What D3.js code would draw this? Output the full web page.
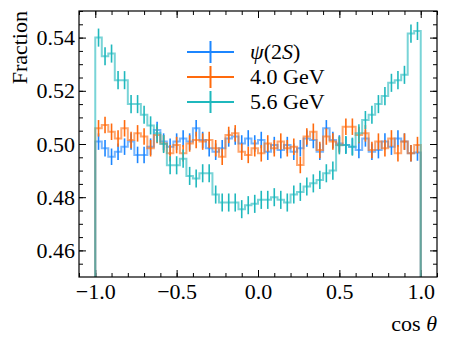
<!DOCTYPE html>
<html>
<head>
<meta charset="utf-8">
<script src="https://cdn.jsdelivr.net/npm/d3@7"></script>
<style>
  body { margin: 0; background: #fff; }
  svg text { font-family: "Liberation Serif", "DejaVu Serif", serif; fill: #000; }
  .domain { display: none; }
</style>
</head>
<body>
<div id="chart"></div>
<script>
// bin edges for cos(theta), 50 bins of width 0.04
var binEdges = d3.range(51).map(i => -1 + i * 0.04);

// fraction per bin
var psiValues = [0.5009, 0.4984, 0.4952, 0.4971, 0.4990, 0.5009, 0.4959, 0.4959, 0.4990, 0.5053,
                 0.5009, 0.4990, 0.5009, 0.5021, 0.5009, 0.5059, 0.5015, 0.4984, 0.4971, 0.4984,
                 0.5021, 0.5028, 0.5002, 0.5021, 0.5002, 0.5015, 0.4971, 0.4996, 0.4977, 0.4996,
                 0.4971, 0.4984, 0.5021, 0.5015, 0.4971, 0.5059, 0.5015, 0.5002, 0.4996, 0.4990,
                 0.4977, 0.5021, 0.4971, 0.4977, 0.5009, 0.4990, 0.5021, 0.5009, 0.4965, 0.4968];
var gev4Values = [0.5059, 0.5071, 0.5046, 0.5021, 0.5059, 0.5015, 0.5040, 0.5028, 0.4984, 0.5034,
                  0.5002, 0.4965, 0.4996, 0.4965, 0.5002, 0.5015, 0.5009, 0.5015, 0.4984, 0.4952,
                  0.5034, 0.5040, 0.4971, 0.4959, 0.4984, 0.4965, 0.5002, 0.4984, 0.5009, 0.4984,
                  0.4990, 0.4921, 0.5028, 0.5046, 0.4977, 0.5028, 0.5009, 0.4996, 0.5065, 0.5065,
                  0.5034, 0.5040, 0.4977, 0.5009, 0.4984, 0.5021, 0.4965, 0.5009, 0.4965, 0.4996];
var gev56Values = [0.5400, 0.5330, 0.5340, 0.5240, 0.5240, 0.5150, 0.5150, 0.5110, 0.5070, 0.5040,
                   0.5000, 0.4920, 0.4920, 0.4945, 0.4880, 0.4870, 0.4890, 0.4890, 0.4810, 0.4780,
                   0.4780, 0.4780, 0.4755, 0.4770, 0.4775, 0.4790, 0.4790, 0.4800, 0.4790, 0.4780,
                   0.4810, 0.4820, 0.4840, 0.4852, 0.4865, 0.4890, 0.4900, 0.4995, 0.4996, 0.4990,
                   0.5040, 0.5090, 0.5110, 0.5150, 0.5180, 0.5230, 0.5240, 0.5260, 0.5415, 0.5425];
// statistical error per bin (same size everywhere)
var psiErr = 0.0031;
var gev4Err = 0.0031;
var gev56Err = 0.0034;

var seriesNames = ["ψ(2S)", "4.0 GeV", "5.6 GeV"];
var seriesColors = ["#1c86ff", "#ff6a0d", "#1fb8bd"];

// tick labels
var xTicks = [-1.0, -0.5, 0.0, 0.5, 1.0];
var yTicks = [0.46, 0.48, 0.50, 0.52, 0.54];

var svgWidth = 449;
var svgHeight = 338;
var margin = { top: 11, right: 12, bottom: 61, left: 79 };
var width = svgWidth - margin.left - margin.right;
var height = svgHeight - margin.top - margin.bottom;
var fontSize = "22px";

var svg = d3.select("#chart")
  .append("svg")
  .attr("width", svgWidth)
  .attr("height", svgHeight);

var chartGroup = svg.append("g")
  .attr("transform", `translate(${margin.left}, ${margin.top})`);

var xScale = d3.scaleLinear().domain([-1.1, 1.1]).range([0, width]);
var yScale = d3.scaleLinear().domain([0.45, 0.55]).range([height, 0]);

// clip so the step edges stop at the frame
svg.append("defs").append("clipPath").attr("id", "plotclip")
  .append("rect").attr("width", width).attr("height", height);

var xMinor = d3.range(-11, 12).map(i => i / 10);
var yMinor = d3.range(91, 111).map(i => i / 200);

function styleAxis(g) {
  g.selectAll(".tick line").attr("stroke", "#000").attr("stroke-width", 1);
  g.selectAll("text").style("font-size", fontSize);
}

// bottom
chartGroup.append("g")
  .attr("transform", `translate(0, ${height})`)
  .call(d3.axisBottom(xScale).tickValues(xMinor).tickSize(-4).tickFormat(""))
  .call(styleAxis);
chartGroup.append("g")
  .attr("transform", `translate(0, ${height})`)
  .call(d3.axisBottom(xScale).tickValues(xTicks).tickSize(-7).tickPadding(6)
    .tickFormat(d => d3.format(".1f")(d).replace("-", "\u2212")))
  .call(styleAxis);
// top
chartGroup.append("g")
  .call(d3.axisTop(xScale).tickValues(xMinor).tickSize(-4).tickFormat(""))
  .call(styleAxis);
chartGroup.append("g")
  .call(d3.axisTop(xScale).tickValues(xTicks).tickSize(-7).tickFormat(""))
  .call(styleAxis);
// left
chartGroup.append("g")
  .call(d3.axisLeft(yScale).tickValues(yMinor).tickSize(-4).tickFormat(""))
  .call(styleAxis);
chartGroup.append("g")
  .call(d3.axisLeft(yScale).tickValues(yTicks).tickSize(-7).tickPadding(4)
    .tickFormat(d3.format(".2f")))
  .call(styleAxis);
// right
chartGroup.append("g")
  .attr("transform", `translate(${width}, 0)`)
  .call(d3.axisRight(yScale).tickValues(yMinor).tickSize(-4).tickFormat(""))
  .call(styleAxis);
chartGroup.append("g")
  .attr("transform", `translate(${width}, 0)`)
  .call(d3.axisRight(yScale).tickValues(yTicks).tickSize(-7).tickFormat(""))
  .call(styleAxis);

// histograms
var plotGroup = chartGroup.append("g").attr("clip-path", "url(#plotclip)");
var allValues = [psiValues, gev4Values, gev56Values];
var allErrs = [psiErr, gev4Err, gev56Err];

allValues.forEach(function(vals, s) {
  var color = seriesColors[s];
  // step outline, dropping to the baseline at both ends
  var pts = [[binEdges[0], 0]];
  vals.forEach(function(v, i) {
    pts.push([binEdges[i], v]);
    pts.push([binEdges[i + 1], v]);
  });
  pts.push([binEdges[binEdges.length - 1], 0]);
  var line = d3.line().x(d => xScale(d[0])).y(d => yScale(d[1]));
  plotGroup.append("path")
    .attr("d", line(pts))
    .attr("fill", "none")
    .attr("stroke", color)
    .attr("stroke-width", 2)
    .attr("stroke-opacity", 0.6);
  // error bars
  plotGroup.selectAll(".err" + s)
    .data(vals)
    .enter()
    .append("line")
    .attr("x1", (d, i) => xScale((binEdges[i] + binEdges[i + 1]) / 2))
    .attr("x2", (d, i) => xScale((binEdges[i] + binEdges[i + 1]) / 2))
    .attr("y1", d => yScale(d - allErrs[s]))
    .attr("y2", d => yScale(d + allErrs[s]))
    .attr("stroke", color)
    .attr("stroke-width", 1.6);
});

// frame
chartGroup.append("rect")
  .attr("width", width)
  .attr("height", height)
  .attr("fill", "none")
  .attr("stroke", "#000")
  .attr("stroke-width", 1.2);

// legend
var legend = chartGroup.append("g").attr("transform", "translate(108, 41)");
seriesNames.forEach(function(name, i) {
  var row = legend.append("g").attr("transform", `translate(0, ${i * 25})`);
  row.append("line").attr("x1", 0).attr("x2", 47).attr("y1", 0).attr("y2", 0)
    .attr("stroke", seriesColors[i]).attr("stroke-width", 2);
  row.append("line").attr("x1", 23.5).attr("x2", 23.5).attr("y1", -11).attr("y2", 11)
    .attr("stroke", seriesColors[i]).attr("stroke-width", 2);
  var t = row.append("text").attr("x", 63).attr("y", 7).style("font-size", fontSize);
  if (i === 0) {
    t.append("tspan").style("font-style", "italic").text("ψ");
    t.append("tspan").text("(2");
    t.append("tspan").style("font-style", "italic").text("S");
    t.append("tspan").text(")");
  } else {
    t.text(name);
  }
});

// axis labels
var xl = svg.append("text")
  .attr("x", margin.left + width)
  .attr("y", 331)
  .attr("text-anchor", "end")
  .style("font-size", fontSize);
xl.append("tspan").text("cos ");
xl.append("tspan").style("font-style", "italic").text("θ");

svg.append("text")
  .attr("transform", `translate(27, ${margin.top}) rotate(-90)`)
  .attr("text-anchor", "end")
  .style("font-size", fontSize)
  .text("Fraction");
</script>
</body>
</html>
